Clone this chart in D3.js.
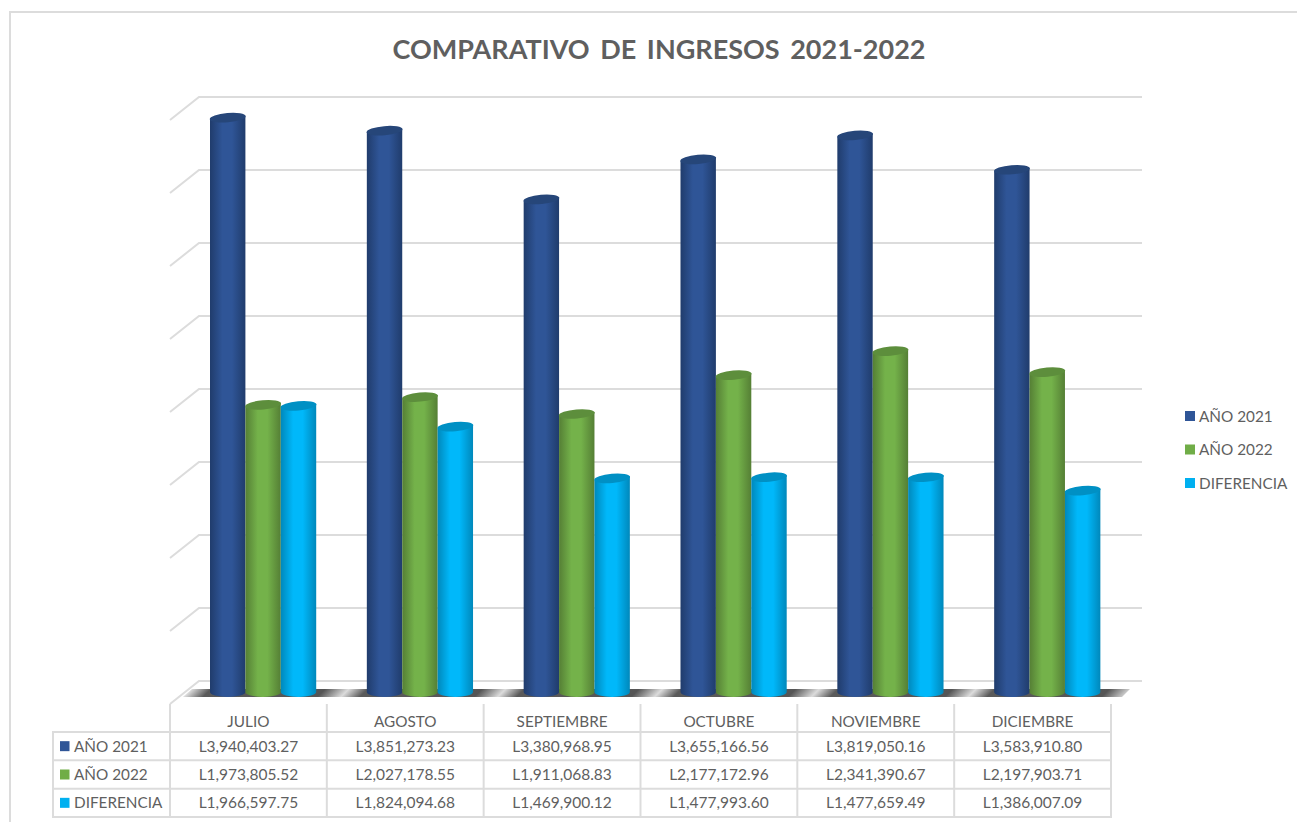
<!DOCTYPE html>
<html>
<head>
<meta charset="utf-8">
<script src="https://cdn.jsdelivr.net/npm/d3@7"></script>
<style>
  html, body { margin: 0; padding: 0; background: #fff; }
  text { font-family: Lato, "Open Sans", sans-serif; fill: #5f5f5f; }
</style>
</head>
<body>
<div id="vis"></div>
<script>
const months = ["JULIO", "AGOSTO", "SEPTIEMBRE", "OCTUBRE", "NOVIEMBRE", "DICIEMBRE"];
const seriesNames = ["AÑO 2021", "AÑO 2022", "DIFERENCIA"];
const seriesColors = ["#2f5597", "#70ad47", "#00b0f0"];
const brightColors = ["#2f5597", "#74b24a", "#00b8fa"];
const edgeColors = ["#203c6c", "#557f35", "#0088bb"];
const topColors = ["#264679", "#5d8e3c", "#0090c4"];
const ano2021 = [3940403.27, 3851273.23, 3380968.95, 3655166.56, 3819050.16, 3583910.80];
const ano2022 = [1973805.52, 2027178.55, 1911068.83, 2177172.96, 2341390.67, 2197903.71];
const diferencia = [1966597.75, 1824094.68, 1469900.12, 1477993.60, 1477659.49, 1386007.09];
const allSeries = [ano2021, ano2022, diferencia];
const gridValues = d3.range(0, 4000001, 500000);

const width = 1297
const height = 822

const svg = d3.select("#vis")
  .append("svg")
  .attr("width", width)
  .attr("height", height)
  .style("display", "block");

const fmt = d3.format(",.2f");
const gridColor = "#dcdcdc";

// chart frame
svg.append("path")
  .attr("d", "M10,822V12H1297")
  .attr("fill", "none")
  .attr("stroke", gridColor)
  .attr("stroke-width", 2);

svg.append("text")
  .attr("x", 659)
  .attr("y", 58.5)
  .attr("text-anchor", "middle")
  .style("font-size", "27px")
  .style("font-weight", 700)
  .style("word-spacing", "4px")
  .text("COMPARATIVO DE INGRESOS 2021-2022");

// scales. back wall is the grid, cylinders stand half way in the depth
const yBack = d3.scaleLinear().domain([0, 4000000]).range([681, 97]);
const yBar = d3.scaleLinear().domain([0, 4000000]).range([693, 109]);
const xCell = d3.scaleBand().domain(months).range([170, 1111]);
const xGroup = d3.scaleBand().domain(months).range([184.5, 1125.5]);
const xSeries = d3.scaleBand().domain(d3.range(3)).range([25.5, 131.7]);

const defs = svg.append("defs");
seriesColors.forEach((c, i) => {
  const g = defs.append("linearGradient").attr("id", "cyl" + i);
  g.append("stop").attr("offset", "0%").attr("stop-color", edgeColors[i]);
  g.append("stop").attr("offset", "35%").attr("stop-color", brightColors[i]);
  g.append("stop").attr("offset", "62%").attr("stop-color", brightColors[i]);
  g.append("stop").attr("offset", "100%").attr("stop-color", edgeColors[i]);
});

// floor shade repeats once per category, light streak in the gap, slanted with the floor
const fl = defs.append("linearGradient")
  .attr("id", "floorShade")
  .attr("gradientUnits", "userSpaceOnUse")
  .attr("spreadMethod", "repeat")
  .attr("gradientTransform", "skewX(-45)")
  .attr("x1", 188 + 693).attr("y1", 0)
  .attr("x2", 188 + 693 + xGroup.step()).attr("y2", 0);
fl.append("stop").attr("offset", "0%").attr("stop-color", "#dcdcdc");
fl.append("stop").attr("offset", "12%").attr("stop-color", "#5a5a5a");
fl.append("stop").attr("offset", "85%").attr("stop-color", "#555555");
fl.append("stop").attr("offset", "100%").attr("stop-color", "#dcdcdc");

// gridlines on back wall and side wall
svg.append("g").selectAll("path")
  .data(gridValues)
  .join("path")
  .attr("d", d => `M170,${yBack(d) + 23}L199,${yBack(d)}H1142`)
  .attr("fill", "none")
  .attr("stroke", gridColor)
  .attr("stroke-width", 2);

// floor band
svg.append("path")
  .attr("d", "M192,689H1130L1122,697H183Z")
  .attr("fill", "url(#floorShade)");

// cylinders
const barG = svg.append("g");
allSeries.forEach((vals, s) => {
  const bw = xSeries.bandwidth();
  const g = barG.append("g");
  g.selectAll("path.body")
    .data(vals)
    .join("path")
    .attr("class", "body")
    .attr("d", (d, i) => {
      const x = xGroup(months[i]) + xSeries(s);
      const y = yBar(d);
      return `M${x},${y + 2}L${x + bw},${y - 2}L${x + bw},${yBar(0) - 1}A${bw / 2},5 0 0 1 ${x},${yBar(0) - 1}Z`;
    })
    .attr("fill", `url(#cyl${s})`);
  g.selectAll("ellipse")
    .data(vals)
    .join("ellipse")
    .attr("cx", (d, i) => xGroup(months[i]) + xSeries(s) + bw / 2)
    .attr("cy", d => yBar(d))
    .attr("rx", bw / 2 + 0.3)
    .attr("ry", 4.6)
    .attr("transform", (d, i) => `rotate(-5 ${xGroup(months[i]) + xSeries(s) + bw / 2} ${yBar(d)})`)
    .attr("fill", topColors[s]);
});

// data table
const rowY = d3.scaleBand().domain(d3.range(3)).range([732, 817]);
const tableG = svg.append("g");
tableG.append("g").selectAll("line")
  .data(months.map(m => xCell(m)).concat([1111]))
  .join("line")
  .attr("x1", d => d).attr("x2", d => d)
  .attr("y1", 704).attr("y2", 817)
  .attr("stroke", gridColor).attr("stroke-width", 2);
tableG.append("line").attr("x1", 53).attr("x2", 53).attr("y1", 731).attr("y2", 818)
  .attr("stroke", gridColor).attr("stroke-width", 2);
tableG.append("g").selectAll("line")
  .data(d3.range(4))
  .join("line")
  .attr("x1", 52).attr("x2", 1112)
  .attr("y1", d => 732 + d * rowY.step())
  .attr("y2", d => 732 + d * rowY.step())
  .attr("stroke", gridColor).attr("stroke-width", 2);

tableG.append("g").selectAll("text")
  .data(months)
  .join("text")
  .attr("x", d => xCell(d) + xCell.bandwidth() / 2)
  .attr("y", 726.5)
  .attr("text-anchor", "middle")
  .style("font-size", "15.3px")
  .text(d => d);

allSeries.forEach((vals, s) => {
  const base = rowY(s) + rowY.step() / 2 + 5.5;
  tableG.append("rect")
    .attr("x", 60).attr("y", rowY(s) + rowY.step() / 2 - 5)
    .attr("width", 9.5).attr("height", 10)
    .attr("fill", seriesColors[s]);
  tableG.append("text")
    .attr("x", 74).attr("y", base)
    .style("font-size", "15.3px")
    .text(seriesNames[s]);
  tableG.append("g").selectAll("text")
    .data(vals)
    .join("text")
    .attr("x", (d, i) => xCell(months[i]) + xCell.bandwidth() / 2)
    .attr("y", base)
    .attr("text-anchor", "middle")
    .style("font-size", "15.5px")
    .text(d => "L" + fmt(d));
});

// legend
const legendY = d3.scalePoint().domain(d3.range(3)).range([416, 483]);
const legend = svg.append("g").selectAll("g")
  .data(seriesNames)
  .join("g")
  .attr("transform", (d, i) => `translate(1185,${legendY(i)})`);
legend.append("rect")
  .attr("x", 0).attr("y", -5).attr("width", 10).attr("height", 10)
  .attr("fill", (d, i) => seriesColors[i]);
legend.append("text")
  .attr("x", 14).attr("y", 5.5)
  .style("font-size", "15.3px")
  .text(d => d);
</script>
</body>
</html>
